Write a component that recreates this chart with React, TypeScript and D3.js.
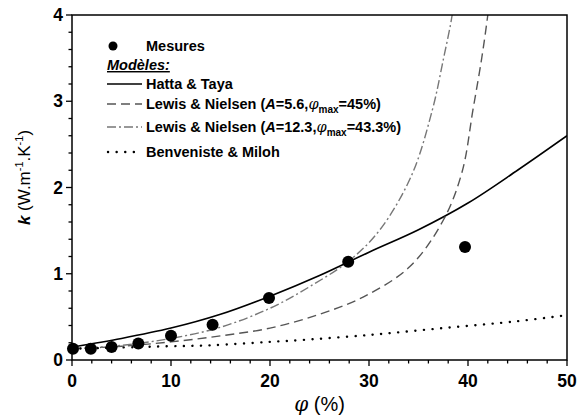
import React from "react";
import * as d3 from "d3";

const W = 581, H = 417;
const M = { left: 72, right: 14, top: 15, bottom: 57 };

const mesuresX = [0.1, 1.9, 4.0, 6.7, 10.0, 14.2, 19.9, 27.9, 39.7];
const mesuresY = [0.13, 0.13, 0.15, 0.19, 0.28, 0.41, 0.72, 1.14, 1.31];

const hattaX = [0, 5, 10, 15, 20, 25, 30, 35, 40, 45, 50];
const hattaY = [0.15, 0.25, 0.37, 0.53, 0.74, 0.98, 1.25, 1.51, 1.82, 2.2, 2.6];

const lewis1X = [0, 5, 10, 15, 20, 25, 29.4, 34.1, 37.5, 39.4, 40.5, 41.4, 42.0, 42.4];
const lewis1Y = [0.13, 0.16, 0.21, 0.28, 0.37, 0.53, 0.73, 1.08, 1.62, 2.18, 2.9, 3.51, 4.0, 4.4];

const lewis2X = [0, 5, 10, 15, 20, 24, 28.1, 31.1, 34.3, 36.4, 37.5, 38.4, 38.8];
const lewis2Y = [0.13, 0.17, 0.25, 0.38, 0.6, 0.85, 1.16, 1.51, 2.14, 2.9, 3.48, 4.0, 4.4];

const benvX = [0, 10, 14, 20, 23, 30, 37.5, 45, 50];
const benvY = [0.13, 0.16, 0.17, 0.21, 0.23, 0.29, 0.37, 0.45, 0.52];

const xTicks = [0, 10, 20, 30, 40, 50];
const yTicks = [0, 1, 2, 3, 4];

const legendItems = [
  { name: "Hatta & Taya", dash: "", color: "#000" },
  { name: "lewis1", dash: "9,5", color: "#555" },
  { name: "lewis2", dash: "9,3,2,3", color: "#777" },
  { name: "Benveniste & Miloh", dash: "0.1,8.5", color: "#000" },
];

export default function App() {
  const x = d3.scaleLinear().domain([0, 50]).range([M.left, W - M.right]);
  const y = d3.scaleLinear().domain([0, 4]).range([H - M.bottom, M.top]);
  const line = (xs: number[], ys: number[]) =>
    d3.line<number>().x((_, i) => x(xs[i])).y((_, i) => y(ys[i])).curve(d3.curveCatmullRom.alpha(0.5))(xs) || "";

  const xMinor = d3.range(0, 50.01, 2);
  const yMinor = d3.range(0, 4.001, 0.2);
  const font = "'Liberation Sans', Arial, sans-serif";
  const x0 = M.left, x1 = W - M.right, y0 = H - M.bottom, y1 = M.top;

  const series = [
    { xs: hattaX, ys: hattaY, ...legendItems[0], w: 1.6 },
    { xs: lewis1X, ys: lewis1Y, ...legendItems[1], w: 1.4 },
    { xs: lewis2X, ys: lewis2Y, ...legendItems[2], w: 1.4 },
    { xs: benvX, ys: benvY, ...legendItems[3], w: 2.4 },
  ];

  const legRows = [84, 104, 127, 152];
  const lf = 14.5;

  return (
    <svg width={W} height={H} style={{ position: "absolute", left: 0, top: 0, background: "#fff" }} fontFamily={font}>
      <defs>
        <clipPath id="plot">
          <rect x={x0} y={y1} width={x1 - x0} height={y0 - y1} />
        </clipPath>
      </defs>
      <rect width={W} height={H} fill="#fff" />
      <g clipPath="url(#plot)">
        {series.map((s, i) => (
          <path key={i} d={line(s.xs, s.ys)} fill="none" stroke={s.color} strokeWidth={s.w}
            strokeDasharray={s.dash || undefined} strokeLinecap={i === 3 ? "round" : "butt"} />
        ))}
      </g>
      {mesuresX.map((v, i) => (
        <circle key={i} cx={x(v)} cy={y(mesuresY[i])} r={6} fill="#000" />
      ))}
      <rect x={x0} y={y1} width={x1 - x0} height={y0 - y1} fill="none" stroke="#000" strokeWidth={1.5} />
      {xMinor.map((t, i) => (
        <line key={"xm" + i} x1={x(t)} x2={x(t)} y1={y0} y2={y0 + (t % 10 === 0 ? 6 : 3.5)} stroke="#000" strokeWidth={1.3} />
      ))}
      {yMinor.map((t, i) => (
        <line key={"ym" + i} x1={x0} x2={x0 - (Math.abs(t - Math.round(t)) < 1e-6 ? 6 : 3.5)} y1={y(t)} y2={y(t)} stroke="#000" strokeWidth={1.3} />
      ))}
      {xTicks.map((t) => (
        <text key={"xt" + t} x={x(t)} y={y0 + 27} textAnchor="middle" fontSize={17.5} fontWeight="bold">{t}</text>
      ))}
      {yTicks.map((t) => (
        <text key={"yt" + t} x={x0 - 9} y={y(t) + 6} textAnchor="end" fontSize={17.5} fontWeight="bold">{t}</text>
      ))}
      <text x={(x0 + x1) / 2} y={411} textAnchor="middle" fontSize={20} fontFamily={font}>
        <tspan fontStyle="italic" fontFamily="'DejaVu Serif', serif">φ</tspan> (%)
      </text>
      <text transform={`translate(30,${(y0 + y1) / 2 - 10}) rotate(-90)`} textAnchor="middle" fontSize={17}>
        <tspan fontWeight="bold" fontStyle="italic">k</tspan> (W.m<tspan fontSize={11} dy={-7}>-1</tspan><tspan dy={7}>.K</tspan><tspan fontSize={11} dy={-7}>-1</tspan><tspan dy={7}>)</tspan>
      </text>
      {/* legend */}
      <circle cx={113} cy={46} r={4.5} fill="#000" />
      <text x={146} y={51} fontSize={lf} fontWeight="bold">Mesures</text>
      <text x={107} y={70} fontSize={lf} fontWeight="bold" fontStyle="italic" textDecoration="underline">Modèles:</text>
      {legendItems.map((it, i) => (
        <line key={"ll" + i} x1={i === 3 ? 108 : 107} x2={142} y1={legRows[i]} y2={legRows[i]} stroke={it.color} strokeWidth={i === 3 ? 2.4 : 1.5}
          strokeDasharray={it.dash || undefined} strokeLinecap={i === 3 ? "round" : "butt"} />
      ))}
      <text x={146} y={legRows[0] + 5} fontSize={lf} fontWeight="bold">Hatta &amp; Taya</text>
      <text x={146} y={legRows[1] + 5} fontSize={lf} fontWeight="bold">
        Lewis &amp; Nielsen (<tspan fontStyle="italic">A</tspan>=5.6,<tspan fontStyle="italic" fontWeight="normal" fontFamily="'DejaVu Serif', serif">φ</tspan><tspan fontSize={10} dy={4}>max</tspan><tspan dy={-4}>=45%)</tspan>
      </text>
      <text x={146} y={legRows[2] + 5} fontSize={lf} fontWeight="bold">
        Lewis &amp; Nielsen (<tspan fontStyle="italic">A</tspan>=12.3,<tspan fontStyle="italic" fontWeight="normal" fontFamily="'DejaVu Serif', serif">φ</tspan><tspan fontSize={10} dy={4}>max</tspan><tspan dy={-4}>=43.3%)</tspan>
      </text>
      <text x={146} y={legRows[3] + 5} fontSize={lf} fontWeight="bold">Benveniste &amp; Miloh</text>
    </svg>
  );
}
